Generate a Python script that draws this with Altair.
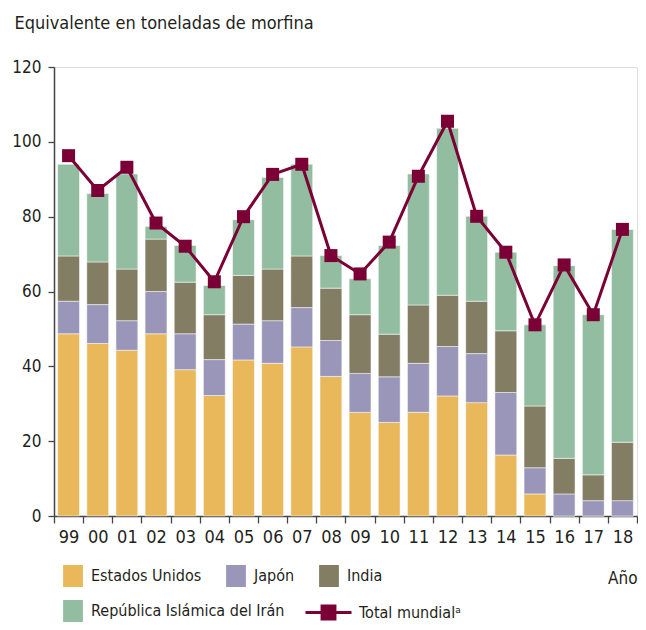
import altair as alt
import pandas as pd

years = ["99", "00", "01", "02", "03", "04", "05", "06", "07", "08",
         "09", "10", "11", "12", "13", "14", "15", "16", "17", "18"]
usa = [48.7, 46.1, 44.3, 48.7, 39.1, 32.2, 41.7, 40.8, 45.2, 37.3,
       27.7, 25.0, 27.7, 32.1, 30.3, 16.3, 5.9, 0.0, 0.0, 0.0]
japan = [8.7, 10.4, 7.9, 11.3, 9.6, 9.6, 9.6, 11.4, 10.5, 9.6,
         10.4, 12.2, 13.1, 13.2, 13.1, 16.7, 7.0, 5.9, 4.1, 4.1]
india = [12.1, 11.4, 13.8, 14.0, 13.8, 12.0, 13.0, 13.8, 13.8, 14.0,
         15.7, 11.4, 15.6, 13.7, 14.0, 16.5, 16.5, 9.5, 6.9, 15.6]
iran = [24.5, 18.3, 25.4, 3.4, 9.8, 7.8, 14.9, 24.5, 24.5, 8.7,
        9.6, 23.7, 35.0, 44.6, 22.7, 21.0, 21.7, 51.5, 42.8, 56.9]
total = [96.3, 87.0, 93.2, 78.3, 72.1, 62.6, 80.0, 91.3, 94.0, 69.6,
         64.7, 73.2, 90.8, 105.5, 80.1, 70.5, 51.1, 67.1, 53.8, 76.6]

series_names = ["Estados Unidos", "Japón", "India", "República Islámica del Irán"]
series_colors = ["#E9B85B", "#9A96BA", "#837D63", "#92BDA0"]
total_name = "Total mundialᵃ"
total_color = "#7B0035"

FONT = "DejaVu Sans Condensed, Liberation Sans Narrow, Roboto, sans-serif"
TXT = "#231F20"
LEG_FS = 16

rows = []
for i, y in enumerate(years):
    for k, (name, vals) in enumerate(zip(series_names, [usa, japan, india, iran])):
        rows.append({"year": y, "serie": f"{k}{name}", "value": vals[i], "order": k})
bars_df = pd.DataFrame(rows)
total_df = pd.DataFrame({"year": years, "total": total, "serie": [total_name] * len(years)})
keys = [f"{k}{n}" for k, n in enumerate(series_names)]

W, H = 583, 449
PL, PT = 46, 59

x_enc = alt.X(
    "year:N", sort=years,
    scale=alt.Scale(paddingInner=0, paddingOuter=0),
    axis=alt.Axis(
        title="Año", titleX=W, titleY=67, titleAlign="right", titleBaseline="alphabetic",
        titleFont=FONT, titleFontSize=17, titleFontWeight="normal", titleColor=TXT,
        labelFont=FONT, labelFontSize=18, labelColor=TXT, labelPadding=5,
        tickSize=7, tickBand="extent", tickColor="#444", tickWidth=1.3,
        domainColor="#444", domainWidth=1.5, labelAngle=0,
    ),
)
y_enc = alt.Y(
    "y1:Q",
    scale=alt.Scale(domain=[0, 120], nice=False),
    axis=alt.Axis(
        values=[0, 20, 40, 60, 80, 100, 120], grid=False,
        title="Equivalente en toneladas de morfina", titleAngle=0, titleAlign="left",
        titleBaseline="alphabetic", titleX=-40, titleY=-39,
        titleFont=FONT, titleFontSize=18, titleFontWeight="normal", titleColor=TXT,
        labelFont=FONT, labelFontSize=17, labelColor=TXT, labelPadding=7,
        tickSize=6, tickColor="#444", tickWidth=1.3,
        domainColor="#444", domainWidth=1.5,
    ),
)


def leg(x, y):
    return alt.Legend(
        title=None, orient="none", legendX=x, legendY=y, direction="horizontal",
        columnPadding=23, symbolType="M-0.9,-1H0.9V1H-0.9Z", symbolSize=484,
        symbolStrokeWidth=0, labelFont=FONT, labelFontSize=LEG_FS, labelColor=TXT,
        labelOffset=7, labelLimit=400, padding=0, labelExpr="slice(datum.label, 1)",
    )


base = alt.Chart(bars_df).transform_stack(
    stack="value", groupby=["year"], as_=["y0", "y1"], sort=[alt.SortField("order")]
)
bar_mark = dict(width=alt.RelativeBandSize(0.75), stroke="white", strokeWidth=1, strokeOpacity=0.5)

bars_a = base.transform_filter(alt.datum.order < 3).mark_bar(**bar_mark).encode(
    x=x_enc, y=y_enc, y2="y0:Q",
    color=alt.Color("serie:N", scale=alt.Scale(domain=keys[:3], range=series_colors[:3]),
                    legend=leg(8, 498)),
)
bars_b = base.transform_filter(alt.datum.order == 3).mark_bar(**bar_mark).encode(
    x=alt.X("year:N", sort=years), y=alt.Y("y1:Q"), y2="y0:Q",
    color=alt.Color("serie:N", scale=alt.Scale(domain=keys[3:], range=series_colors[3:]),
                    legend=leg(8, 533)),
)

line = alt.Chart(total_df).mark_line(strokeWidth=3).encode(
    x=alt.X("year:N", sort=years),
    y=alt.Y("total:Q"),
    stroke=alt.Stroke(
        "serie:N",
        scale=alt.Scale(domain=[total_name], range=[total_color]),
        legend=alt.Legend(
            title=None, orient="none", legendX=250, legendY=521,
            symbolType="M-1,0H1M-0.28,-0.28H0.28V0.28H-0.28Z", symbolSize=2116,
            symbolStrokeWidth=3, symbolFillColor=total_color,
            labelFont=FONT, labelFontSize=LEG_FS, labelColor=TXT, labelOffset=6,
            labelLimit=400, padding=0,
        ),
    ),
)

points = alt.Chart(total_df).mark_point(
    shape="square", filled=True, size=169, color=total_color, opacity=1
).encode(
    x=alt.X("year:N", sort=years),
    y=alt.Y("total:Q"),
)

chart = alt.layer(bars_a, bars_b, line, points).resolve_scale(color="independent").properties(
    width=W, height=H,
    autosize=alt.AutoSizeParams(type="none"),
    padding={"left": PL, "top": PT, "right": 1, "bottom": 106},
).configure_view(stroke=None).configure(background="white")

chart.save("out.html", embed_options={"renderer": "svg", "actions": False})
